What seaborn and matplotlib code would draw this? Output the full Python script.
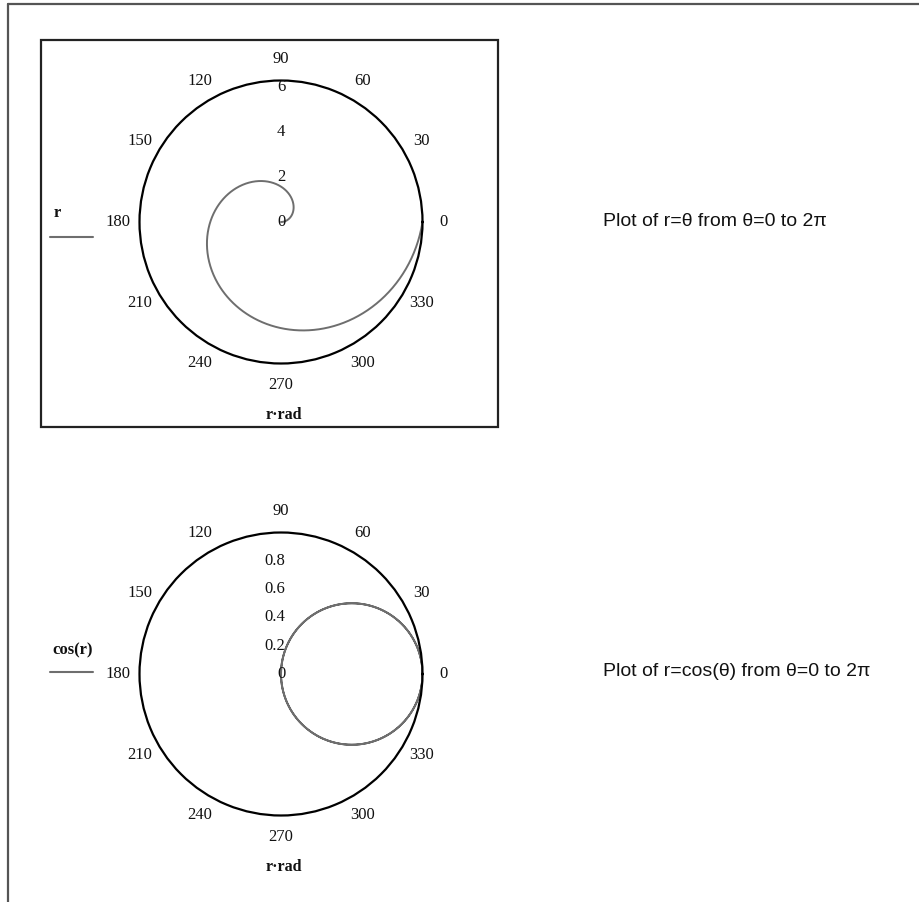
import numpy as np
import pandas as pd
import matplotlib
matplotlib.use("Agg")
import matplotlib.pyplot as plt
from matplotlib.lines import Line2D
from matplotlib.patches import Rectangle
import seaborn as sns

# Parameter for both curves
theta = np.linspace(0.0, 2.0 * np.pi, 721)
r_spiral = theta                 # r = theta
r_cosine = np.cos(theta)         # r = cos(theta)

angle_ticks = [0, 30, 60, 90, 120, 150, 180, 210, 240, 270, 300, 330]
spiral_rticks = [0, 2, 4, 6]
spiral_rlabels = ["0", "2", "4", "6"]
cosine_rticks = [0, 0.2, 0.4, 0.6, 0.8]
cosine_rlabels = ["0", "0.2", "0.4", "0.6", "0.8"]

legend_labels = ["r", "cos(r)"]
axis_title = "r\u00b7rad"
captions = ["Plot of r=\u03b8 from \u03b8=0 to 2\u03c0",
            "Plot of r=cos(\u03b8) from \u03b8=0 to 2\u03c0"]

sns.set_style("white")
plt.rcParams["font.family"] = ["Liberation Serif", "DejaVu Serif"]

W, H = 920, 902
fig = plt.figure(figsize=(W / 100, H / 100), dpi=100)

curve_color = "#6e6e6e"
text_color = "#111111"


def fx(px):
    return px / W


def fy(py):
    return 1 - py / H


def polar_panel(cx, cy, rad_px, rmax, t, r, rticks, rlabels):
    ax = fig.add_axes([fx(cx - rad_px), fy(cy + rad_px),
                       2 * rad_px / W, 2 * rad_px / H], projection="polar")
    # Negative radii are drawn on the opposite side of the origin
    t = np.where(r < 0, t + np.pi, t)
    r = np.abs(r)
    df = pd.DataFrame({"theta": t, "r": r})
    sns.lineplot(data=df, x="theta", y="r", sort=False, ax=ax,
                 color=curve_color, lw=1.4, estimator=None)
    ax.set_rlim(0, rmax)
    ax.grid(False)
    ax.set_xticks([])
    ax.set_yticks([])
    ax.set_xlabel("")
    ax.set_ylabel("")
    ax.spines["polar"].set_linewidth(1.6)
    ax.spines["polar"].set_color("black")
    for a in angle_ticks:
        ax.text(np.deg2rad(a), rmax * 1.15, str(a), ha="center", va="center",
                fontsize=12, color=text_color, clip_on=False)
    for v, lab in zip(rticks, rlabels):
        ax.annotate(lab, xy=(np.pi / 2, v), xytext=(3, 0),
                    textcoords="offset points", ha="right", va="center",
                    fontsize=12, color=text_color, annotation_clip=False)
    return ax


polar_panel(281, 222, 141.5, 2 * np.pi, theta, r_spiral,
            spiral_rticks, spiral_rlabels)
polar_panel(281, 674, 141.5, 1.0, theta, r_cosine,
            cosine_rticks, cosine_rlabels)

# Frame around the upper panel
fig.add_artist(Rectangle((fx(41), fy(427)), fx(498) - fx(41), fy(40) - fy(427),
                         transform=fig.transFigure, fill=False,
                         lw=1.6, edgecolor="#222222"))

# Page border on the left and top
fig.add_artist(Line2D([fx(8), fx(8)], [fy(4), 0], transform=fig.transFigure,
                      lw=1.6, color="#555555"))
fig.add_artist(Line2D([fx(8), 1], [fy(4), fy(4)], transform=fig.transFigure,
                      lw=1.6, color="#555555"))

# Legend entries and axis titles
for lab, lx, ly, line_y, ty in [(legend_labels[0], 54, 213, 237, 415),
                                (legend_labels[1], 52, 650, 672, 867)]:
    fig.text(fx(lx), fy(ly), lab, fontsize=12,
             fontweight="bold", ha="left", va="center", color=text_color)
    fig.add_artist(Line2D([fx(50), fx(93)], [fy(line_y), fy(line_y)],
                          transform=fig.transFigure, lw=1.5, color=curve_color))
    fig.text(fx(284), fy(ty), axis_title, fontsize=11.5, fontweight="bold",
             ha="center", va="center", color=text_color)

# Captions on the right
for cap, cy in zip(captions, [221, 672]):
    fig.text(fx(603), fy(cy), cap, fontsize=14, ha="left", va="center",
             family=["Liberation Sans", "DejaVu Sans"], color=text_color)

fig.savefig("out.png", dpi=100)
